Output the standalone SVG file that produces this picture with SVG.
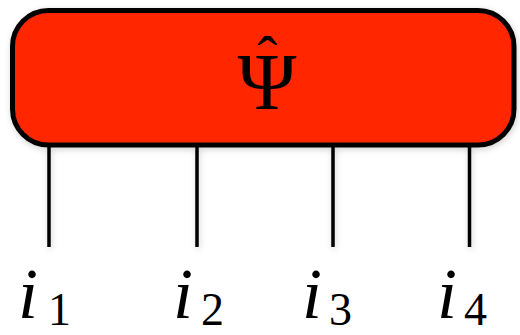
<svg xmlns="http://www.w3.org/2000/svg" width="520" height="335" viewBox="0 0 520 335">
  <defs>
    <filter id="sh" x="-10%" y="-10%" width="120%" height="130%">
      <feDropShadow dx="1" dy="2" stdDeviation="3" flood-color="#000" flood-opacity="0.18"/>
    </filter>
  </defs>
  <style>
    .box { fill: #ff2600; stroke: #000; stroke-width: 5; }
    .leg { stroke: #000; stroke-width: 3.5; fill: none; }
    .lab { font-family: "Liberation Serif", serif; font-style: italic; font-size: 72px; fill: #000; }
    .sub { font-style: normal; font-size: 46px; }
    .psi { font-family: "Liberation Serif", serif; font-size: 80px; fill: #000; }
    .hat { font-size: 60px; }
  </style>
  <g id="connectors" filter="url(#sh)">
    <line class="leg" x1="49" y1="146" x2="49" y2="247"/>
    <line class="leg" x1="197" y1="146" x2="197" y2="247"/>
    <line class="leg" x1="333" y1="146" x2="333" y2="247"/>
    <line class="leg" x1="469.5" y1="146" x2="469.5" y2="247"/>
  </g>
  <g id="psi" filter="url(#sh)">
    <rect class="box" x="12.5" y="10.5" width="501.5" height="134.5" rx="36" ry="36"/>
    <text class="psi" x="267" y="109" text-anchor="middle">Ψ<tspan class="hat" x="267.5" y="77">ˆ</tspan></text>
  </g>
  <g id="i1"><text class="lab" x="18" y="318">i<tspan class="sub" x="48" y="325">1</tspan></text></g>
  <g id="i2"><text class="lab" x="173" y="318">i<tspan class="sub" x="201" y="325">2</tspan></text></g>
  <g id="i3"><text class="lab" x="302" y="318">i<tspan class="sub" x="329" y="325">3</tspan></text></g>
  <g id="i4"><text class="lab" x="437" y="318">i<tspan class="sub" x="464" y="325">4</tspan></text></g>
</svg>
